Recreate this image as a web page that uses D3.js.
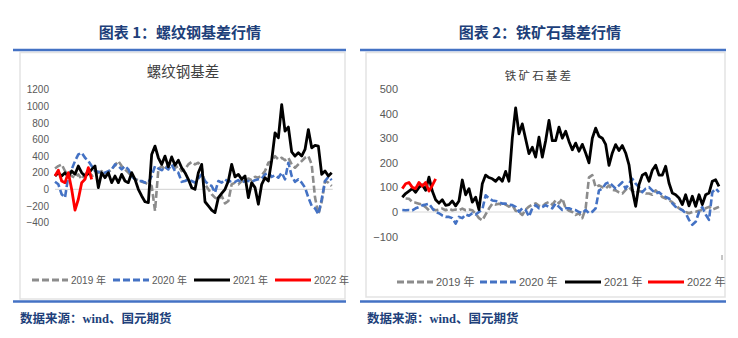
<!DOCTYPE html>
<html><head><meta charset="utf-8">
<script src="https://cdn.jsdelivr.net/npm/d3@7"></script>
<style>
html,body{margin:0;padding:0;background:#fff;}
svg{display:block;}
</style></head>
<body>
<svg id="c" width="738" height="338"></svg>
<script>
// ---------- DATA ----------
const years = ["2019 年", "2020 年", "2021 年", "2022 年"];

// 螺纹钢基差 (sampled evenly across the trading year)
const rebar2019 = [250,280,300,220,170,160,140,180,120,180,220,160,180,200,220,190,210,240,290,340,280,240,200,160,120,110,90,80,60,40,-260,240,280,240,300,320,260,280,220,240,300,330,300,320,260,60,0,-60,-100,-120,-80,-170,-140,60,80,60,100,90,130,110,150,140,170,220,320,340,400,360,380,350,380,300,260,300,340,380,400,300,-100,-300,-150,100,80,40];
const rebar2020 = [90,60,-60,-100,160,240,340,420,440,380,340,280,220,210,200,200,220,240,300,280,240,280,240,160,120,100,100,80,80,160,280,250,230,270,240,300,220,200,90,100,120,100,80,130,180,100,60,40,-40,100,80,120,90,100,90,110,80,100,100,90,110,120,130,180,200,150,170,140,200,120,320,160,90,120,80,20,-100,-200,-230,-300,-120,100,150,110];
const rebar2021 = [160,200,160,200,150,220,180,280,200,160,190,240,280,20,200,140,200,80,160,80,180,100,80,200,120,0,-80,-150,-160,420,520,380,300,400,270,390,290,350,260,200,120,20,0,200,300,-150,-200,-250,-280,-100,-50,0,100,300,150,180,120,160,-100,80,20,-180,60,140,100,350,680,620,1020,700,750,450,400,440,400,480,720,500,530,520,180,220,160,200];
const rebar2022 = [160,230,100,80,200,0,-250,-120,80,120,260,120];
const rebarTicks = [-400,-200,0,200,400,600,800,1000,1200];

// 铁矿石基差
const ore2019 = [null,55,54,41,38,34,30,20,7,12,7,10,14,7,14,7,10,7,14,7,10,7,-7,-25,-34,-10,14,34,30,34,28,30,22,28,5,0,-12,10,22,30,35,25,22,35,41,30,48,35,55,15,5,0,-12,-5,-25,15,141,150,101,108,101,95,108,90,88,80,75,90,101,85,75,85,81,75,75,70,88,75,61,55,48,40,28,15,8,0,-5,0,1,5,8,15,21,10,15,21];
const ore2020 = [8,7,8,7,15,20,27,30,34,15,0,-5,-14,-20,-20,-25,-47,-20,-25,-10,-15,-5,-10,0,10,68,55,47,45,40,34,34,30,28,21,1,15,8,-19,15,28,15,20,28,20,15,35,21,8,15,15,10,8,0,-5,8,-5,1,15,88,95,115,121,108,95,108,121,95,115,135,115,101,81,95,101,88,75,81,68,61,55,35,21,15,8,-5,-32,-52,-40,0,20,-10,-32,81,95,81];
const ore2021 = [60,75,85,95,80,100,110,88,142,85,50,36,50,27,30,45,25,45,130,70,95,40,60,10,115,150,140,135,125,140,125,165,125,300,423,318,358,297,237,263,223,304,223,290,372,290,290,345,300,328,287,253,280,247,275,240,200,300,341,308,300,275,190,240,274,250,270,240,192,90,23,111,150,158,125,170,190,150,150,186,118,77,70,57,30,70,25,64,23,70,30,70,77,125,131,104];
const ore2022 = [95,115,120,100,95,120,105,120,85,108,135];
const oreTicks = [-100,0,100,200,300,400,500];

// ---------- STYLE ----------
const seriesStyle = [
  {color:"#8c8c8c", dash:"7,3", w:2.6},
  {color:"#4472c4", dash:"7,3", w:2.6},
  {color:"#000000", dash:null, w:2.8},
  {color:"#ff0000", dash:null, w:2.8}
];
const blue = "#4472c4", navy = "#203f7a";

const svg = d3.select("#c");

// Panel frames
function panel(x0, x1, boxL, boxR, boxB, titleX, title, srcX) {
  svg.append("rect").attr("x", boxL).attr("y", 52.5).attr("width", boxR - boxL).attr("height", boxB - 52.5)
    .attr("fill", "none").attr("stroke", "#e3e3e3").attr("stroke-width", 1.5);
  svg.append("line").attr("x1", x0).attr("x2", x1).attr("y1", 50).attr("y2", 50)
    .attr("stroke", blue).attr("stroke-width", 2.5);
  svg.append("line").attr("x1", x0).attr("x2", x1).attr("y1", 301.5).attr("y2", 301.5)
    .attr("stroke", blue).attr("stroke-width", 2.5);
  svg.append("text").attr("x", titleX).attr("y", 37.5).attr("text-anchor", "middle")
    .attr("font-family", "'Noto Sans CJK SC'").attr("font-weight", "bold").attr("font-size", 15)
    .attr("fill", navy).text(title);
  svg.append("text").attr("x", srcX).attr("y", 323).attr("font-family", "'Liberation Serif','Noto Sans CJK SC'")
    .attr("font-weight", "bold").attr("font-size", 12.5).attr("fill", navy).text("数据来源：wind、国元期货");
}
panel(13, 346, 20, 345, 299, 180, "图表 1：螺纹钢基差行情", 20);
panel(360, 726, 366, 725, 297, 540, "图表 2：铁矿石基差行情", 367);

function chart(cfg) {
  const g = svg.append("g");
  const n = cfg.series[0].length;
  const x = d3.scaleLinear().domain([0, n - 1]).range(cfg.xr);
  const y = d3.scaleLinear().domain(cfg.yd).range(cfg.yr);
  // chart title
  g.append("text").attr("x", cfg.tx).attr("y", cfg.ty).attr("text-anchor", "middle")
    .attr("font-family", "'Noto Sans CJK SC'").attr("font-size", cfg.tfs)
    .attr("letter-spacing", cfg.tls).attr("fill", "#404040").text(cfg.title);
  // y axis
  const ax = g.append("g").attr("transform", `translate(${cfg.lx},0)`)
    .call(d3.axisLeft(y).tickValues(cfg.ticks).tickFormat(d3.format("d")).tickSize(0).tickPadding(0));
  ax.select(".domain").remove();
  ax.selectAll("text").attr("font-family", "'Liberation Sans',Arial,sans-serif")
    .attr("font-size", cfg.afs).attr("fill", "#595959");
  // zero line
  g.append("line").attr("x1", cfg.xr[0]).attr("x2", cfg.xr[1] + 1).attr("y1", y(0)).attr("y2", y(0))
    .attr("stroke", "#d9d9d9").attr("stroke-width", 1.2);
  // series
  cfg.series.forEach((s, k) => {
    const line = d3.line().defined(v => v !== null).x((v, i) => x(i)).y(v => y(v));
    const p = g.append("path").datum(s).attr("d", line).attr("fill", "none")
      .attr("stroke", seriesStyle[k].color).attr("stroke-width", seriesStyle[k].w)
      .attr("stroke-linejoin", "round");
    if (seriesStyle[k].dash) p.attr("stroke-dasharray", seriesStyle[k].dash);
  });
  // legend
  const lg = g.append("g");
  years.forEach((yr, k) => {
    const lx = cfg.legX[k];
    const l = lg.append("line").attr("x1", lx).attr("x2", lx + cfg.legW).attr("y1", cfg.legY).attr("y2", cfg.legY)
      .attr("stroke", seriesStyle[k].color).attr("stroke-width", 2.8);
    if (seriesStyle[k].dash) l.attr("stroke-dasharray", "7,3");
    lg.append("text").attr("x", lx + cfg.legW + 3).attr("y", cfg.legY).attr("dy", "0.36em")
      .attr("font-family", "'Liberation Sans','Noto Sans CJK SC',sans-serif")
      .attr("font-size", cfg.lfs).attr("fill", "#595959").text(yr);
  });
  return {x, y};
}

chart({
  series: [rebar2019, rebar2020, rebar2021, rebar2022],
  xr: [55, 331.7], yd: [-400, 1200], yr: [222.5, 89.7],
  ticks: rebarTicks, lx: 49, afs: 10,
  title: "螺纹钢基差", tx: 183, ty: 77, tfs: 14.5, tls: 0,
  legX: [32, 113, 194, 275], legW: 36, legY: 280, lfs: 10
});

chart({
  series: [ore2019, ore2020, ore2021, ore2022],
  xr: [402.3, 719], yd: [-100, 500], yr: [236.6, 89],
  ticks: oreTicks, lx: 398, afs: 11,
  title: "铁矿石基差", tx: 539, ty: 80, tfs: 11.5, tls: 2.2,
  legX: [397, 480, 565, 648], legW: 36, legY: 282, lfs: 11
});
// small stray axis tick at far right of the ore chart
svg.append("line").attr("x1", 722).attr("x2", 722).attr("y1", 255).attr("y2", 260)
  .attr("stroke", "#8c8c8c").attr("stroke-width", 1);
</script>
</body></html>
